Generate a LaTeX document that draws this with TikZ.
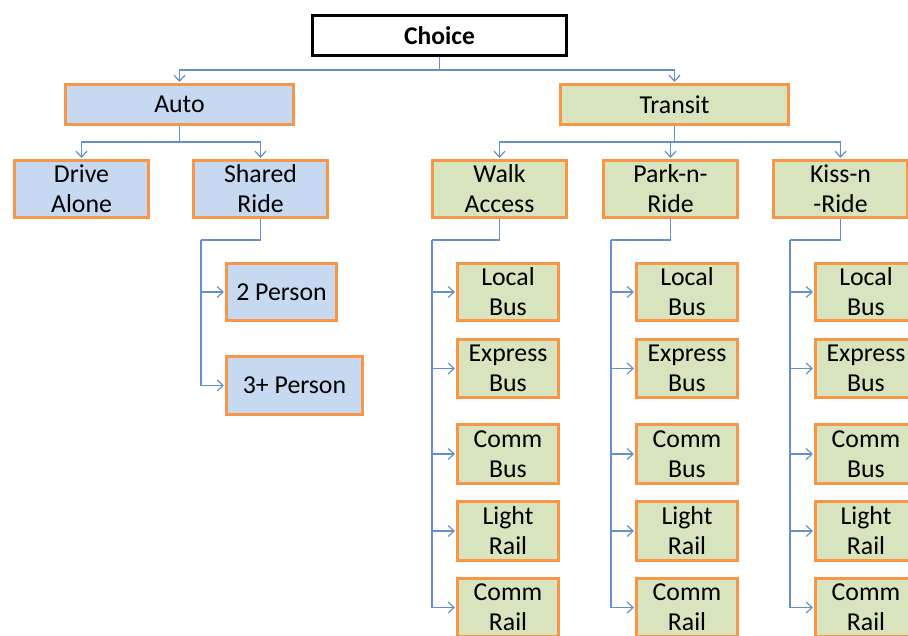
\documentclass[tikz,border=0pt]{standalone}
\usepackage{fontspec}
\setmainfont{Carlito}
\usetikzlibrary{arrows.meta}
\definecolor{boxblue}{HTML}{C6D9F1}
\definecolor{boxgreen}{HTML}{D7E4BD}
\definecolor{boxorange}{HTML}{F79646}
\definecolor{connblue}{RGB}{100,145,205}
\begin{document}
\begin{tikzpicture}[x=1pt,y=-1pt,
  every node/.style={font=\fontsize{25.8}{30}\selectfont, align=center, inner sep=0pt},
  basebox/.style={draw=boxorange, line width=3pt, minimum height=57pt, minimum width=134pt},
  autobox/.style={basebox, fill=boxblue},
  transbox/.style={basebox, fill=boxgreen},
  subbox/.style={transbox, minimum width=101pt},
  conn/.style={draw=connblue, line width=1.2pt, -{Straight Barb[length=6pt,width=11pt,line width=1.2pt]}, shorten >=1pt},
  plain/.style={draw=connblue, line width=1.2pt}
]
\useasboundingbox (0,0) rectangle (908,635);
% top
\node[draw=black, line width=3pt, fill=white, minimum width=254pt, minimum height=40pt, font=\bfseries\fontsize{25.5}{30}\selectfont] (choice) at (439.5,35.5) {Choice};
\node[autobox, minimum width=228pt, minimum height=40pt] (auto) at (179.5,104.5) {Auto};
\node[transbox, minimum width=228pt, minimum height=40pt] (transit) at (674.5,104.5) {Transit};
% auto children
\node[autobox] (drive) at (81.5,189) {Drive\\Alone};
\node[autobox] (shared) at (260.5,189) {Shared\\Ride};
\node[autobox, minimum width=110pt] (p2) at (281.5,292) {2 Person};
\node[autobox, minimum width=136pt, minimum height=58pt] (p3) at (294.5,385.5) {3+ Person};
% transit children
\node[transbox] (walk) at (499.5,189) {Walk\\Access};
\node[transbox] (park) at (670.5,189) {Park-n-\\Ride};
\node[transbox] (kiss) at (840.5,189) {Kiss-n\\-Ride};
% sub boxes
\foreach \c/\x in {w/508, p/687, k/866}{
  \node[subbox] (\c local) at (\x,292) {Local\\Bus};
  \node[subbox, minimum height=58pt] (\c express) at (\x,368.5) {Express\\Bus};
  \node[subbox, minimum height=59pt] (\c commbus) at (\x,454) {Comm\\Bus};
  \node[subbox, minimum height=59pt] (\c light) at (\x,531) {Light\\Rail};
  \node[subbox, minimum height=58pt] (\c commrail) at (\x,607.5) {Comm\\Rail};
}
% bus coordinates
\coordinate (topbus) at (439.5,70);
\coordinate (autobus) at (179.5,142);
\coordinate (transbus) at (674.5,142);
\coordinate (sbus) at (201,240);
\coordinate (wbus) at (432,240);
\coordinate (pbus) at (611,240);
\coordinate (kbus) at (790,240);
% connectors
\draw[plain] (choice.south) -- (topbus);
\draw[conn] (topbus) -| (auto.north);
\draw[conn] (topbus) -| (transit.north);
\draw[plain] (auto.south) -- (autobus);
\draw[conn] (autobus) -| (drive.north);
\draw[conn] (autobus) -| (shared.north);
\draw[plain] (transit.south) -- (transbus);
\draw[conn] (transbus) -| (walk.north);
\draw[conn] (transbus) -| (park.north);
\draw[conn] (transbus) -| (kiss.north);
\draw[plain] (shared.south) |- (sbus);
\draw[conn] (sbus) |- (p2.west);
\draw[conn] (sbus) |- (p3.west);
\draw[plain] (walk.south) |- (wbus);
\draw[plain] (park.south) |- (pbus);
\draw[plain] (kiss.south) |- (kbus);
\foreach \c in {w,p,k}{
  \foreach \s in {local,express,commbus,light,commrail}{
    \draw[conn] (\c bus) |- (\c\s.west);
  }
}
\end{tikzpicture}
\end{document}
